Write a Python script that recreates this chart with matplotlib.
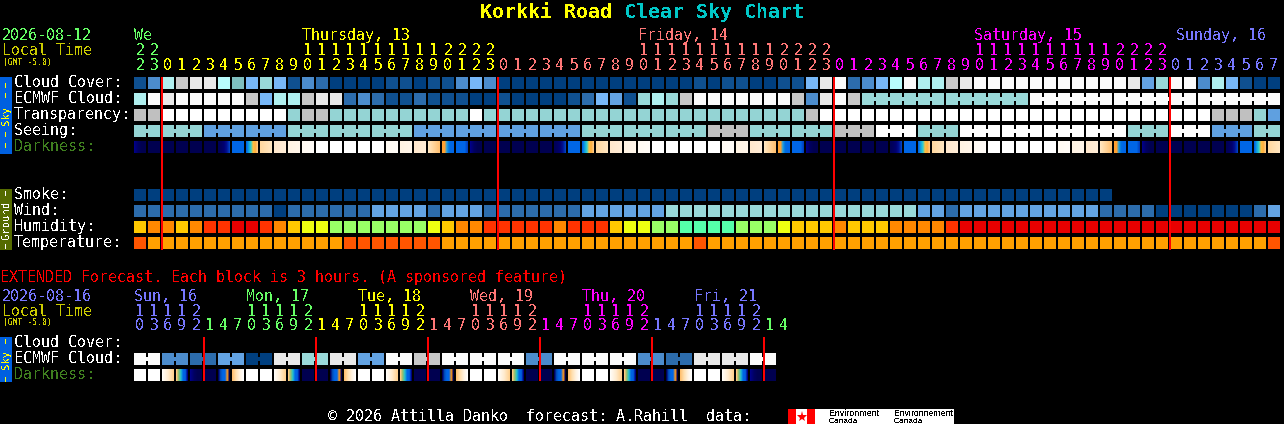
import matplotlib
matplotlib.use('Agg')
import matplotlib.pyplot as plt
import numpy as np
from matplotlib.colors import to_rgb

plt.rcParams['font.family'] = ['DejaVu Sans Mono']
plt.rcParams['text.antialiased'] = False

# ---- data ----
hours = [22, 23,
         0, 1, 2, 3, 4, 5, 6, 7, 8, 9, 10, 11, 12, 13, 14, 15, 16, 17, 18, 19, 20, 21, 22, 23,
         0, 1, 2, 3, 4, 5, 6, 7, 8, 9, 10, 11, 12, 13, 14, 15, 16, 17, 18, 19, 20, 21, 22, 23,
         0, 1, 2, 3, 4, 5, 6, 7, 8, 9, 10, 11, 12, 13, 14, 15, 16, 17, 18, 19, 20, 21, 22, 23,
         0, 1, 2, 3, 4, 5, 6, 7]
day_sizes = [2, 24, 24, 24, 8]
day_names = ['We', 'Thursday, 13', 'Friday, 14', 'Saturday, 15', 'Sunday, 16']
day_cols = [0, 12, 36, 60, 74.4]

ext_hours = [10, 13, 16, 19, 22, 1, 4, 7, 10, 13, 16, 19, 22, 1, 4, 7, 10, 13, 16, 19, 22, 1, 4, 7,
             10, 13, 16, 19, 22, 1, 4, 7, 10, 13, 16, 19, 22, 1, 4, 7, 10, 13, 16, 19, 22, 1, 4]
ext_day_sizes = [5, 8, 8, 8, 8, 8, 2]
ext_day_names = ['Sun, 16', 'Mon, 17', 'Tue, 18', 'Wed, 19', 'Thu, 20', 'Fri, 21']
ext_day_cols = [0, 8, 16, 24, 32, 40]

cloud_cover = [1, 3, 8, 10, 11, 11, 9, 6, 5, 7, 5, 1, 3, 2, 0, 0, 0, 0, 1, 1, 0, 1, 1, 3, 5, 3,
               0, 0, 0, 0, 0, 0, 0, 0, 0, 0, 0, 0, 0, 0, 1, 0, 1, 1, 0, 0, 1, 1, 5, 11,
               12, 2, 3, 5, 9, 12, 8, 8, 10, 11, 12, 12, 12, 12, 12, 12, 12, 12, 12, 12, 12, 11, 4, 7,
               12, 12, 3, 8, 5, 1, 0, 0]
ecmwf_cloud = [8, 12, 11, 12, 12, 12, 12, 12, 10, 5, 8, 8, 10, 11, 11, 2, 3, 2, 1, 1, 2, 1, 1, 1, 0, 0,
               1, 0, 0, 0, 0, 1, 2, 5, 4, 1, 7, 8, 7, 10, 12, 12, 12, 12, 12, 12, 12, 10, 3, 11,
               12, 10, 7, 7, 7, 7, 7, 7, 7, 7, 7, 7, 7, 7, 12, 12, 12, 12, 12, 12, 12, 12, 12, 12,
               12, 12, 12, 12, 12, 12, 12, 12]
ecmwf_groups = [1] * 52 + [6, 6, 6, 6, 6]
transparency = [0, 0, 3, 3, 3, 3, 3, 3, 3, 3, 3, 1, 0, 0, 1, 1, 1, 1, 1, 1, 1, 1, 1, 1, 3, 1,
                1, 1, 1, 1, 1, 1, 1, 1, 1, 1, 1, 1, 1, 1, 1, 1, 1, 1, 1, 1, 1, 1, 0, 3,
                3, 3, 3, 3, 3, 3, 3, 3, 3, 3, 3, 3, 3, 3, 3, 3, 3, 3, 3, 3, 3, 3, 3, 3,
                3, 3, 3, 0, 0, 0, 1, 2]
seeing = [1, 1, 1, 1, 1, 2, 2, 2, 2, 2, 2, 1, 1, 1, 1, 1, 1, 1, 1, 1, 2, 2, 2, 2, 2, 2,
          2, 2, 2, 2, 2, 2, 1, 1, 1, 1, 1, 1, 1, 1, 1, 0, 0, 0, 1, 1, 1, 1, 1, 1,
          0, 0, 0, 3, 3, 3, 1, 1, 1, 3, 3, 3, 3, 3, 3, 3, 3, 3, 3, 3, 3, 1, 1, 1,
          3, 3, 3, 2, 2, 2, 1, 1]
seeing_groups = [2, 3, 3, 3, 3, 3, 3, 3, 3, 3, 3, 3, 3, 3, 3, 3, 3, 3, 3, 3, 3, 3, 3, 3, 3, 3, 3, 2]
darkness = ['A', 'n', 'n', 'n', 'n', 'n', 'a', 'b', 'c', 'p', 'q', 'r', 's', 'w', 'w', 'w', 'w', 'w',
            's', 'r', 'q', 'P', 'C', 'B', 'A', 'n',
            'n', 'n', 'n', 'n', 'a', 'b', 'c', 'p', 'q', 'r', 's', 'w', 'w', 'w', 'w', 'w',
            's', 'r', 'q', 'P', 'C', 'B', 'A', 'n',
            'n', 'n', 'n', 'n', 'a', 'b', 'c', 'p', 'q', 'r', 's', 'w', 'w', 'w', 'w', 'w',
            's', 'r', 'q', 'P', 'C', 'B', 'A', 'n',
            'n', 'n', 'n', 'n', 'a', 'b', 'c', 'p']

smoke = [0, 0, 0, 0, 0, 0, 0, 0, 0, 0, 0, 0, 0, 0, 0, 0, 0, 0, 0, 0, 0, 0, 0, 0, 0, 0,
         0, 0, 0, 0, 0, 0, 0, 0, 0, 0, 0, 0, 0, 0, 0, 0, 0, 0, 0, 0, 0, 0, 0, 0,
         0, 0, 0, 0, 0, 0, 0, 0, 0, 0, 0, 0, 0, 0, 0, 0, 0, 0, 0, 0]
wind = [2, 2, 2, 2, 2, 2, 2, 2, 2, 2, 0, 2, 2, 2, 2, 2, 2, 4, 4, 4, 4, 2, 4, 4, 4, 2,
        2, 2, 2, 2, 2, 2, 4, 4, 4, 4, 4, 4, 7, 7, 7, 7, 7, 7, 7, 7, 7, 7, 7, 7,
        7, 7, 7, 7, 7, 7, 4, 4, 2, 4, 4, 4, 4, 4, 4, 4, 4, 4, 4, 2, 2, 2, 2, 0,
        0, 0, 0, 0, 0, 0, 2, 4]
humidity = [3, 4, 4, 3, 4, 5, 5, 6, 6, 5, 4, 3, 2, 2, 1, 1, 1, 1, 1, 1, 1, 2, 3, 4, 4, 5,
            5, 5, 5, 5, 4, 5, 5, 5, 3, 2, 2, 1, 1, 0, 0, 0, 0, 1, 1, 1, 2, 3, 3, 3,
            4, 3, 3, 3, 4, 4, 4, 4, 5, 6, 6, 6, 6, 6, 6, 6, 6, 6, 6, 6, 6, 6, 6, 6,
            6, 6, 6, 6, 6, 6, 6, 6]
temperature = [1, 0, 0, 0, 0, 0, 0, 0, 0, 0, 0, 0, 0, 0, 0, 1, 1, 1, 1, 1, 1, 1, 0, 0, 0, 0,
               0, 0, 0, 0, 0, 0, 0, 0, 0, 0, 0, 0, 0, 0, 1, 0, 0, 0, 0, 0, 0, 0, 0, 0,
               0, 0, 0, 0, 0, 0, 0, 0, 0, 0, 0, 0, 0, 0, 0, 0, 0, 0, 0, 0, 0, 0, 0, 0,
               0, 0, 0, 0, 0, 0, 0, 1]

ext_ecmwf = [12, 12, 3, 3, 2, 2, 4, 4, 0, 0, 11, 11, 7, 7, 11, 11, 4, 4, 12, 12, 10, 10, 12, 12,
             12, 12, 12, 12, 3, 3, 12, 12, 12, 12, 12, 12, 3, 3, 2, 2, 11, 11, 11, 11, 12, 12]
ext_darkness = ['w', 'w', 'u', 'x', 'A', 'n', 'y', 'z', 'w', 'w', 'u', 'x', 'n', 'n', 'y', 'z',
                'w', 'w', 'u', 'x', 'n', 'n', 'y', 'z', 'w', 'w', 'u', 'x', 'n', 'n', 'y', 'z',
                'w', 'w', 'u', 'x', 'n', 'n', 'y', 'z', 'w', 'w', 'u', 'x', 'A', 'n']

row_labels = ['Cloud Cover:', 'ECMWF Cloud:', 'Transparency:', 'Seeing:', 'Darkness:']
ground_labels = ['Smoke:', 'Wind:', 'Humidity:', 'Temperature:']
ext_labels = ['Cloud Cover:', 'ECMWF Cloud:', 'Darkness:']

# ---- colours ----
cloud_colors = ['#003f7f', '#0f5090', '#2c6cac', '#4c8ccc', '#63a3e3', '#77b7f7', '#7fbfbf',
                '#99d9d9', '#afefef', '#b8fcfc', '#c8c8c8', '#e9e9e9', '#fbfbfb']
sky_colors = ['#c0c0c0', '#94d4d4', '#5fa0e0', '#ffffff']
humid_colors = ['#55ffaa', '#99ff66', '#eeff11', '#ffc800', '#ff8800', '#ff3300', '#e80000']
temp_colors = ['#ffa000', '#ff5500']
dark_stops = {
    'n': ['#000050', '#000050'],
    'A': ['#000088', '#000060', '#000050', '#000050'],
    'a': ['#000058', '#000060', '#000070', '#001090', '#0040c0'],
    'b': ['#0066e6', '#0066e6'],
    'B': ['#0066e6', '#0066e6', '#0066e6', '#0066e6', '#0040c0'],
    'c': ['#0066e6', '#10a0e0', '#30d0d0', '#ffc040', '#ffb040', '#ffc880'],
    'C': ['#ffa030', '#ffa030', '#20a0e0', '#0070e0', '#0066e6', '#0066e6'],
    'p': ['#ffd8a0', '#ffe6c0'],
    'P': ['#ffe6c0', '#ffc070'],
    'q': ['#ffe8cc', '#ffedd8'],
    'r': ['#fff3e3', '#fff6ea'],
    's': ['#fffaf2', '#fffcf8'],
    'w': ['#ffffff', '#ffffff'],
    'u': ['#fffdf8', '#ffecd0', '#ffd090'],
    'x': ['#ffc880', '#90c070', '#20c0d0', '#0066e6', '#0060e0', '#000080'],
    'y': ['#000060', '#0050c0', '#0066e6', '#0066e6', '#ff9a20', '#000050'],
    'z': ['#ffc070', '#ffe0b0', '#fff2e0', '#ffffff'],
}
green = '#66ff66'
yellow = '#ffff00'
salmon = '#ff7777'
magenta = '#ff00ff'
blue = '#7777ff'
day_colors = [green, yellow, salmon, magenta, blue]
ext_day_colors = [blue, green, yellow, salmon, magenta, blue, green]

CELL = 12
STEP = 14
X0 = 134
FS = 10.8


def col_x(c):
    return X0 + STEP * c


def draw_row(ax, values, palette, y, groups=None):
    xs = [col_x(i) for i in range(len(values))]
    cols = [palette[v] for v in values]
    ax.bar(xs, CELL, width=CELL, bottom=y, align='edge', color=cols, linewidth=0, snap=False)
    if groups is None:
        return
    # blocks of one forecast period are joined by a small neck
    start = 0
    for g in groups:
        for i in range(start, start + g - 1):
            ax.bar(col_x(i) + CELL, 4, width=STEP - CELL, bottom=y + 4, align='edge',
                   color=palette[values[i]], linewidth=0, snap=False)
        start += g


def draw_darkness(ax, codes, y):
    for i, code in enumerate(codes):
        stops = np.array([to_rgb(c) for c in dark_stops[code]])
        pos = np.linspace(0, 1, len(stops))
        t = np.linspace(0, 1, CELL)
        img = np.stack([np.interp(t, pos, stops[:, k]) for k in range(3)], axis=1)[None, :, :]
        x = col_x(i)
        ax.imshow(img, extent=(x, x + CELL, y + CELL, y), aspect='auto', interpolation='nearest')


def hour_header(ax, hrs, sizes, y_tens, y_ones, colors):
    i = 0
    for size, col in zip(sizes, colors):
        for h in hrs[i:i + size]:
            cx = col_x(i) + 6
            if h >= 10:
                ax.text(cx, y_tens, str(h // 10), color=col, ha='center', va='baseline', fontsize=FS)
            ax.text(cx, y_ones, str(h % 10), color=col, ha='center', va='baseline', fontsize=FS)
            i += 1


def side_bar(ax, y0, y1, color, label, tcolor, dashes):
    ax.bar(0, y1 - y0, width=12, bottom=y0, align='edge', color=color, linewidth=0, snap=False)
    ax.text(6, (y0 + y1) / 2, label, color=tcolor, rotation=90, ha='center', va='center', fontsize=7.6)
    for d in dashes:
        ax.bar(5, 5, width=1, bottom=d, align='edge', color=tcolor, linewidth=0, snap=False)


def red_lines(ax, cols, y0, y1):
    for c in cols:
        ax.bar(col_x(c) - 1, y1 - y0, width=2, bottom=y0, align='edge', color='#ff0000',
               linewidth=0, snap=False, zorder=5)


fig = plt.figure(figsize=(12.84, 4.24), dpi=100, facecolor='black')
ax = fig.add_axes([0, 0, 1, 1])
ax.set_facecolor('black')

# title
ax.text(480, 18, 'Korkki Road', color=yellow, fontsize=14.4, fontweight='bold', va='baseline')
ax.text(624, 18, 'Clear Sky Chart', color='#00c8c8', fontsize=14.4, fontweight='bold', va='baseline')

# left header
ax.text(2, 40, '2026-08-12', color=green, fontsize=FS, va='baseline')
ax.text(2, 55, 'Local Time', color='#cccc00', fontsize=FS, va='baseline')
ax.text(3, 65, '(GMT -5.0)', color='#cccc00', fontsize=5.8, va='baseline')
for name, c, col in zip(day_names, day_cols, day_colors):
    ax.text(col_x(c) + 0.5, 40, name, color=col, fontsize=FS, va='baseline')
hour_header(ax, hours, day_sizes, 55, 70, day_colors)

# sky rows
draw_row(ax, cloud_cover, cloud_colors, 77)
draw_row(ax, ecmwf_cloud, cloud_colors, 93, groups=ecmwf_groups)
draw_row(ax, transparency, sky_colors, 109)
draw_row(ax, seeing, sky_colors, 125, groups=seeing_groups)
draw_darkness(ax, darkness, 141)
for i, lab in enumerate(row_labels):
    ax.text(14, 87 + 16 * i, lab, color='#3f7f1f' if lab == 'Darkness:' else 'white', fontsize=FS, va='baseline')
side_bar(ax, 77, 154, '#0060e0', 'Sky', yellow, [83, 93, 132, 143])

# ground rows
draw_row(ax, smoke, cloud_colors, 189)
draw_row(ax, wind, cloud_colors, 205)
draw_row(ax, humidity, humid_colors, 221)
draw_row(ax, temperature, temp_colors, 237)
for i, lab in enumerate(ground_labels):
    ax.text(14, 199 + 16 * i, lab, color='white', fontsize=FS, va='baseline')
side_bar(ax, 189, 250, '#556b00', 'Ground', 'white', [191, 244])

red_lines(ax, [2, 26, 50, 74], 77, 250)

# extended forecast
ax.text(0, 282, 'EXTENDED Forecast. Each block is 3 hours. (A sponsored feature)', color='#ff0000', fontsize=FS, va='baseline')
ax.text(2, 301, '2026-08-16', color=blue, fontsize=FS, va='baseline')
ax.text(2, 316, 'Local Time', color='#cccc00', fontsize=FS, va='baseline')
ax.text(3, 325, '(GMT -5.0)', color='#cccc00', fontsize=5.8, va='baseline')
for name, c, col in zip(ext_day_names, ext_day_cols, ext_day_colors):
    ax.text(col_x(c) + 0.5, 301, name, color=col, fontsize=FS, va='baseline')
hour_header(ax, ext_hours, ext_day_sizes, 316, 330, ext_day_colors)
draw_row(ax, ext_ecmwf, cloud_colors, 353, groups=[2] * 23)
draw_darkness(ax, ext_darkness, 369)
for i, lab in enumerate(ext_labels):
    ax.text(14, 347 + 16 * i, lab, color='#3f7f1f' if lab == 'Darkness:' else 'white', fontsize=FS, va='baseline')
side_bar(ax, 337, 382, '#0060e0', 'Sky', yellow, [339, 377])
red_lines(ax, [5, 13, 21, 29, 37, 45], 337, 381)

# footer
ax.text(328, 421, '\u00a9 2026 Attilla Danko  forecast: A.Rahill  data:', color='white', fontsize=FS, va='baseline')
ax.bar(788, 15, width=166, bottom=409, align='edge', color='white', linewidth=0, snap=False)
ax.bar(788, 15, width=8, bottom=409, align='edge', color='#ff0000', linewidth=0, snap=False)
ax.bar(807, 15, width=8, bottom=409, align='edge', color='#ff0000', linewidth=0, snap=False)
ax.plot(801.5, 416.5, marker='*', ms=8, color='#ff0000', mew=0)
ax.text(829, 416, 'Environment', color='black', fontsize=6.4, va='baseline', family='Liberation Sans')
ax.text(829, 423, 'Canada', color='black', fontsize=6, va='baseline', family='Liberation Sans')
ax.text(894, 416, 'Environnement', color='black', fontsize=6.2, va='baseline', family='Liberation Sans')
ax.text(894, 423, 'Canada', color='black', fontsize=6, va='baseline', family='Liberation Sans')

ax.set_xlim(0, 1284)
ax.set_ylim(424, 0)
ax.axis('off')
fig.savefig('out.png', dpi=100, facecolor='black')
